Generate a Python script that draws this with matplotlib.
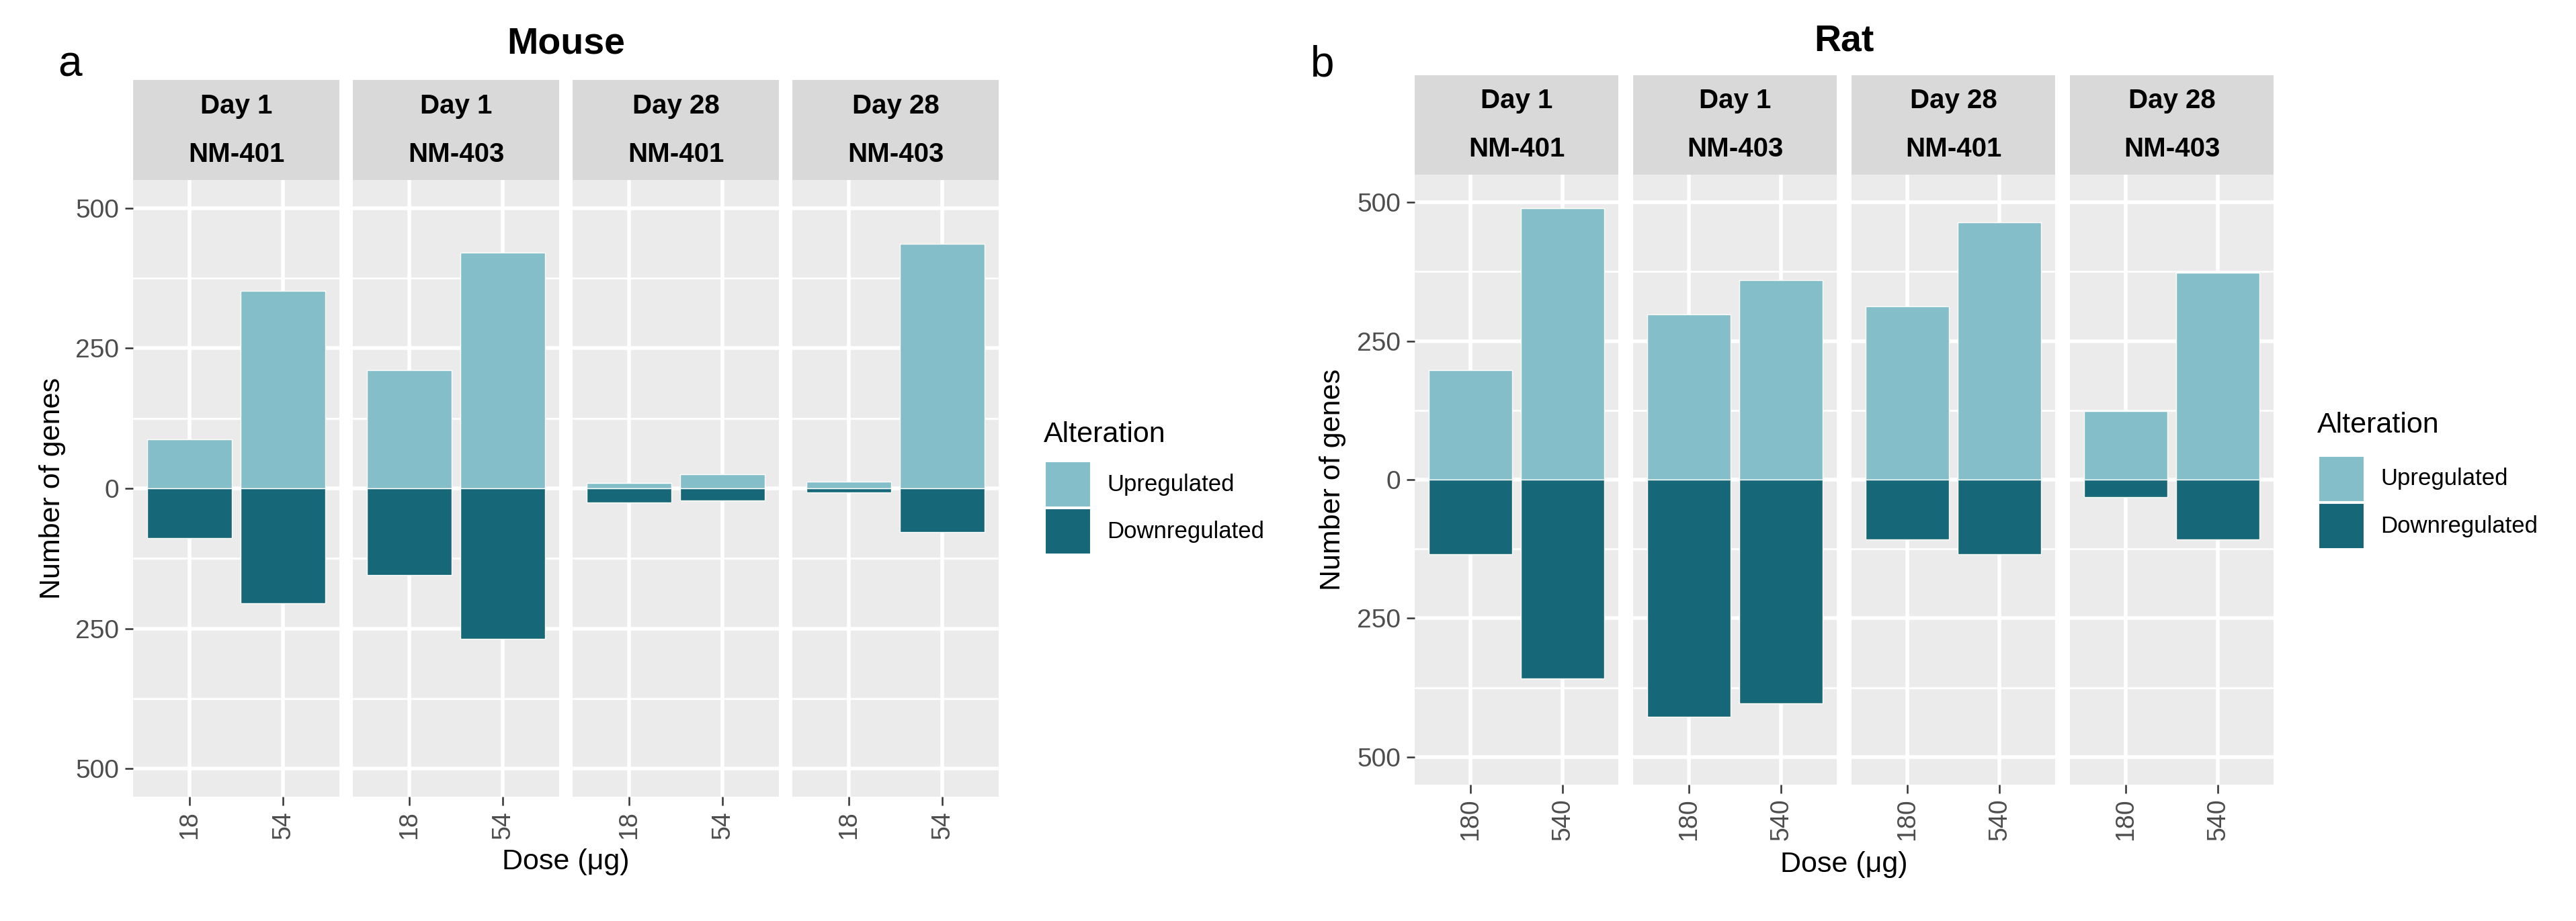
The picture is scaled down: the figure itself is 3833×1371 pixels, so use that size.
import matplotlib
matplotlib.use('Agg')
import matplotlib.pyplot as plt
from matplotlib.patches import Rectangle
from matplotlib.ticker import FixedLocator

plt.rcParams['font.family'] = ['Liberation Sans', 'DejaVu Sans']

# ==================== 数据 ====================
days = ['Day 1', 'Day 1', 'Day 28', 'Day 28']
products = ['NM-401', 'NM-403', 'NM-401', 'NM-403']
mouse_doses = ['18', '54']
rat_doses = ['180', '540']

# 每个面板两个剂量 (低, 高)
mouse_up = [88, 352, 211, 420, 9, 25, 12, 436]
mouse_down = [89, 205, 155, 268, 25, 21, 7, 78]
rat_up = [197, 490, 298, 360, 312, 464, 123, 373]
rat_down = [135, 359, 428, 403, 108, 135, 32, 108]

y_ticks = [-500, -250, 0, 250, 500]
y_tick_labels = ['500', '250', '0', '250', '500']
legend_labels = ['Upregulated', 'Downregulated']

# ==================== 样式 ====================
W, H = 3833, 1371
DPI = 100
C_UP = '#84BFC9'
C_DOWN = '#166878'
PANEL_BG = '#EBEBEB'
STRIP_BG = '#D9D9D9'
TICK_GRAY = '#4D4D4D'


def fx(px):
    return px / W


def fy(py):
    return 1 - py / H


def draw_species(fig, title, tag, doses, up, down, lay):
    left0, step, pw = lay['left'], lay['step'], lay['pw']
    ptop, pbot, stop = lay['ptop'], lay['pbot'], lay['stop']
    for i in range(4):
        x0 = left0 + i * step
        ax = fig.add_axes([fx(x0), fy(pbot), pw / W, (pbot - ptop) / H])
        ax.set_facecolor(PANEL_BG)
        for s in ax.spines.values():
            s.set_visible(False)
        xs = [1, 2]
        ups = up[2 * i:2 * i + 2]
        downs = [-v for v in down[2 * i:2 * i + 2]]
        ax.bar(xs, ups, width=0.9, color=C_UP, edgecolor='white', linewidth=1.0, zorder=3)
        ax.bar(xs, downs, width=0.9, color=C_DOWN, edgecolor='white', linewidth=1.0, zorder=3)
        ax.set_xlim(0.4, 2.6)
        ax.set_ylim(-550, 550)
        ax.set_yticks(y_ticks)
        ax.yaxis.set_minor_locator(FixedLocator([-375, -125, 125, 375]))
        ax.set_xticks(xs)
        ax.set_xticklabels(doses, rotation=90, fontsize=27, color=TICK_GRAY)
        ax.grid(True, which='major', color='white', linewidth=4.0, zorder=0)
        ax.grid(True, which='minor', axis='y', color='white', linewidth=2.0, zorder=0)
        ax.set_axisbelow(True)
        ax.tick_params(axis='both', which='major', length=9, width=1.8, color='#333333', pad=6)
        ax.tick_params(axis='y', which='minor', length=0)
        if i == 0:
            ax.set_yticklabels(y_tick_labels, fontsize=28, color=TICK_GRAY)
        else:
            ax.tick_params(axis='y', which='major', length=0, labelleft=False)

        # 分面标签
        sax = fig.add_axes([fx(x0), fy(ptop), pw / W, (ptop - stop) / H])
        sax.set_facecolor(STRIP_BG)
        sax.set_xticks([])
        sax.set_yticks([])
        for s in sax.spines.values():
            s.set_visible(False)
        sax.text(0.5, 0.74, days[i], ha='center', va='center', fontsize=29,
                 fontweight='bold', transform=sax.transAxes)
        sax.text(0.5, 0.255, products[i], ha='center', va='center', fontsize=29,
                 fontweight='bold', transform=sax.transAxes)

    xmid = left0 + (3 * step + pw) / 2
    fig.text(fx(xmid), fy(lay['title_y']), title, ha='center', va='center',
             fontsize=40, fontweight='bold')
    fig.text(fx(lay['tag_x']), fy(lay['tag_y']), tag, ha='left', va='baseline', fontsize=46)
    fig.text(fx(xmid), fy(lay['xlab_y']), 'Dose (\u03bcg)', ha='center', va='center', fontsize=31)
    fig.text(fx(lay['ylab_x']), fy((ptop + pbot) / 2), 'Number of genes', ha='center',
             va='center', rotation=90, fontsize=31)

    # 图例
    lx, ly = lay['leg_x'], lay['leg_y']
    fig.text(fx(lx), fy(ly), 'Alteration', ha='left', va='center', fontsize=31)
    key = 68
    for j, (lab, col) in enumerate(zip(legend_labels, [C_UP, C_DOWN])):
        ky = lay['key_top'] + j * (key + 2)
        fig.patches.append(Rectangle((fx(lx + 2), fy(ky + key)), key / W, key / H,
                                     transform=fig.transFigure, facecolor=col,
                                     edgecolor='white', linewidth=1.5))
        fig.text(fx(lx + key + 26), fy(ky + key / 2), lab, ha='left', va='center', fontsize=25)


def main():
    fig = plt.figure(figsize=(W / DPI, H / DPI), dpi=DPI)

    mouse_layout = dict(left=198, step=327, pw=307, ptop=268, pbot=1186, stop=119,
                        title_y=65, tag_x=86, tag_y=113, xlab_y=1283, ylab_x=78,
                        leg_x=1553, leg_y=647, key_top=687)
    rat_layout = dict(left=2105, step=325, pw=303, ptop=260, pbot=1168, stop=112,
                      title_y=62, tag_x=1950, tag_y=113, xlab_y=1287, ylab_x=1983,
                      leg_x=3448, leg_y=633, key_top=679)

    draw_species(fig, 'Mouse', 'a', mouse_doses, mouse_up, mouse_down, mouse_layout)
    draw_species(fig, 'Rat', 'b', rat_doses, rat_up, rat_down, rat_layout)

    fig.savefig('out.png', dpi=DPI, facecolor='white')
    plt.close(fig)


if __name__ == '__main__':
    main()
